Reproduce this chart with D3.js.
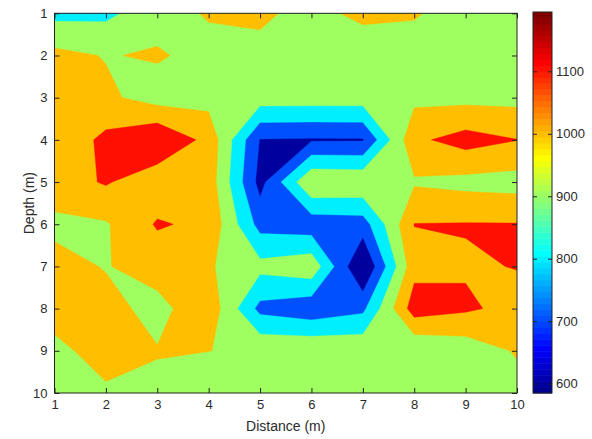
<!DOCTYPE html>
<html>
<head>
<meta charset="utf-8">
<script src="https://cdn.jsdelivr.net/npm/d3@7"></script>
<style>
  body { margin: 0; background: #fff; }
  svg { display: block; }
  text { font-family: "Liberation Sans", Arial, sans-serif; fill: #2a2a2a; }
</style>
</head>
<body>
<svg id="chart" width="592" height="439"></svg>
<script>
// Measurement grid: distance along the line (columns) and depth (rows)
const distance = [1, 2, 3, 4, 5, 6, 7, 8, 9, 10];
const depth = [1, 2, 3, 4, 5, 6, 7, 8, 9, 10];

// Measured values, one array per depth row (distance 1 .. 10)
const depth1  = [ 870,  876,  964, 1008, 1011,  980, 1016, 1010,  950,  950];
const depth2  = [1028,  995, 1010,  970,  983,  960,  957,  950,  945,  950];
const depth3  = [1040, 1020,  957,  966,  950,  950,  950,  975,  970,  970];
const depth4  = [1020, 1125, 1195, 1069,  695,  690,  692, 1080, 1140, 1102];
const depth5  = [1050, 1110, 1030, 1058,  665,  995,  985,  988,  970,  960];
const depth6  = [ 979,  990, 1110, 1078,  763,  740,  751, 1102, 1105, 1104];
const depth7  = [1030,  995, 1040, 1010,  930,  970,  585, 1067, 1090, 1103];
const depth8  = [1040, 1030,  970, 1067,  770,  730,  777, 1150, 1115, 1070];
const depth9  = [ 975, 1040, 1005, 1001,  985,  990,  980,  905,  940, 1010];
const depth10 = [ 950,  985,  980,  940,  950,  955,  955,  960,  955,  960];

// Contour levels and colorbar tick labels
const levels = [600, 700, 800, 900, 1000, 1100];
const colorbarTicks = [600, 700, 800, 900, 1000, 1100];

const rows = [depth1, depth2, depth3, depth4, depth5, depth6, depth7, depth8, depth9, depth10];
const values = rows.flat();
const cmin = d3.min(values), cmax = d3.max(values);

// MATLAB-style jet colormap with 64 entries
function jet(t) {
  const c = v => Math.round(255 * Math.max(0, Math.min(1, v)));
  return `rgb(${c(1.5 - Math.abs(4 * t - 3))},${c(1.5 - Math.abs(4 * t - 2))},${c(1.5 - Math.abs(4 * t - 1))})`;
}
function colorIndex(v) {
  return Math.max(1, Math.min(64, Math.floor((v - cmin) / (cmax - cmin) * 64) + 1));
}
const colorOf = v => jet(colorIndex(v) / 64);

const svg = d3.select("#chart");
const plot = { left: 54.5, right: 517, top: 13.3, bottom: 393 };

const x = d3.scaleLinear().domain([1, 10]).range([plot.left, plot.right]);
const y = d3.scaleLinear().domain([1, 10]).range([plot.top, plot.bottom]);

svg.append("defs").append("clipPath").attr("id", "plotClip")
  .append("rect")
  .attr("x", plot.left).attr("y", plot.top)
  .attr("width", plot.right - plot.left).attr("height", plot.bottom - plot.top);

// Filled contours: grid value (i, j) sits at contour coordinate (i + 0.5, j + 0.5)
const contours = d3.contours()
  .size([distance.length, depth.length])
  .thresholds([cmin, ...levels])(values);

const projection = d3.geoTransform({
  point: function (px, py) {
    this.stream.point(x(px + 0.5), y(py + 0.5));
  }
});
const path = d3.geoPath(projection);

svg.append("g").attr("clip-path", "url(#plotClip)")
  .selectAll("path")
  .data(contours)
  .join("path")
  .attr("d", path)
  .attr("fill", d => colorOf(d.value))
  .attr("stroke", d => colorOf(d.value))
  .attr("stroke-width", 0.4);

// Axes with inward ticks on all four sides
const tickLen = 5;
const fontSize = 13;

const gx = svg.append("g").attr("transform", `translate(0,${plot.bottom})`)
  .call(d3.axisBottom(x).tickValues(distance).tickFormat(d3.format("d"))
    .tickSizeInner(-tickLen).tickSizeOuter(0).tickPadding(7));
const gxTop = svg.append("g").attr("transform", `translate(0,${plot.top})`)
  .call(d3.axisTop(x).tickValues(distance).tickFormat("")
    .tickSizeInner(-tickLen).tickSizeOuter(0));
const gy = svg.append("g").attr("transform", `translate(${plot.left},0)`)
  .call(d3.axisLeft(y).tickValues(depth).tickFormat(d3.format("d"))
    .tickSizeInner(-tickLen).tickSizeOuter(0).tickPadding(7));
const gyRight = svg.append("g").attr("transform", `translate(${plot.right},0)`)
  .call(d3.axisRight(y).tickValues(depth).tickFormat("")
    .tickSizeInner(-tickLen).tickSizeOuter(0));

[gx, gxTop, gy, gyRight].forEach(g => {
  g.select(".domain").remove();
  g.selectAll(".tick line").attr("stroke", "#222").attr("stroke-width", 1);
  g.selectAll(".tick text").attr("font-size", fontSize)
    .attr("font-family", "Liberation Sans, Arial, sans-serif").attr("fill", "#2a2a2a");
});

svg.append("rect")
  .attr("x", plot.left).attr("y", plot.top)
  .attr("width", plot.right - plot.left).attr("height", plot.bottom - plot.top)
  .attr("fill", "none").attr("stroke", "#222").attr("stroke-width", 1);

// Axis titles
svg.append("text")
  .attr("x", (plot.left + plot.right) / 2).attr("y", 431)
  .attr("text-anchor", "middle").attr("font-size", 14)
  .text("Distance (m)");
svg.append("text")
  .attr("transform", `translate(34,${(plot.top + plot.bottom) / 2}) rotate(-90)`)
  .attr("text-anchor", "middle").attr("font-size", 14)
  .text("Depth (m)");

// Colorbar
const cb = { left: 533, right: 552, top: 12, bottom: 393 };
const cbScale = d3.scaleLinear().domain([cmin, cmax]).range([cb.bottom, cb.top]);
const bands = d3.range(1, 65);
svg.append("g").selectAll("rect")
  .data(bands)
  .join("rect")
  .attr("x", cb.left)
  .attr("width", cb.right - cb.left)
  .attr("y", k => cbScale(cmin + k / 64 * (cmax - cmin)))
  .attr("height", k => cbScale(cmin + (k - 1) / 64 * (cmax - cmin)) - cbScale(cmin + k / 64 * (cmax - cmin)) + 0.5)
  .attr("fill", k => jet(k / 64));

const gcb = svg.append("g").attr("transform", `translate(${cb.right},0)`)
  .call(d3.axisRight(cbScale).tickValues(colorbarTicks).tickFormat(d3.format("d"))
    .tickSizeInner(-4).tickSizeOuter(0).tickPadding(4));
const gcbLeft = svg.append("g").attr("transform", `translate(${cb.left},0)`)
  .call(d3.axisLeft(cbScale).tickValues(colorbarTicks).tickFormat("")
    .tickSizeInner(-4).tickSizeOuter(0));
[gcb, gcbLeft].forEach(g => {
  g.select(".domain").remove();
  g.selectAll(".tick line").attr("stroke", "#222");
  g.selectAll(".tick text").attr("font-size", fontSize)
    .attr("font-family", "Liberation Sans, Arial, sans-serif").attr("fill", "#2a2a2a");
});
svg.append("rect")
  .attr("x", cb.left).attr("y", cb.top)
  .attr("width", cb.right - cb.left).attr("height", cb.bottom - cb.top)
  .attr("fill", "none").attr("stroke", "#222").attr("stroke-width", 1);
</script>
</body>
</html>
